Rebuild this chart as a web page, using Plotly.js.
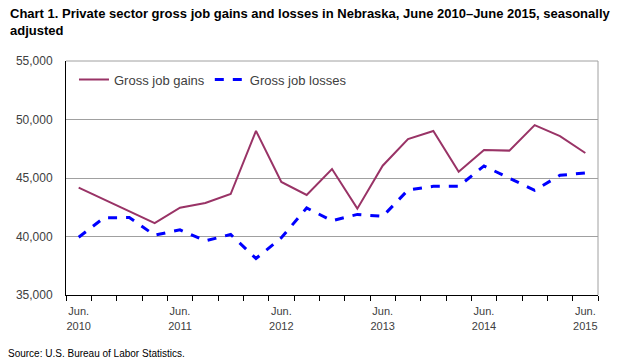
<!DOCTYPE html>
<html>
<head>
<meta charset="utf-8">
<script src="https://cdn.plot.ly/plotly-3.0.1.min.js"></script>
<style>html,body{margin:0;padding:0;background:#fff}#chart{width:640px;height:364px}</style>
</head>
<body>
<div id="chart"></div>
<script>
const quarters = ['Jun 2010','Sep 2010','Dec 2010','Mar 2011','Jun 2011','Sep 2011','Dec 2011','Mar 2012','Jun 2012','Sep 2012','Dec 2012','Mar 2013','Jun 2013','Sep 2013','Dec 2013','Mar 2014','Jun 2014','Sep 2014','Dec 2014','Mar 2015','Jun 2015'];
const grossJobGains = [44170,43180,42150,41140,42460,42860,43630,49030,44660,43550,45770,42380,46050,48330,49020,45540,47390,47340,49520,48580,47140];
const grossJobLosses = [39940,41600,41620,40110,40570,39630,40170,38120,39890,42440,41350,41890,41720,43970,44290,44290,46030,44970,43950,45230,45430];
const tickPositions = [0,4,8,12,16,20];
const tickLabels = ['Jun.<br>2010','Jun.<br>2011','Jun.<br>2012','Jun.<br>2013','Jun.<br>2014','Jun.<br>2015'];
const yTicks = [35000,40000,45000,50000,55000];

const xIdx = quarters.map((q, i) => i);
const font = 'Liberation Sans, Arial, sans-serif';
const titleFont = 'Liberation Sans Narrow, Arial Narrow, ' + font;

const traces = [
  {x: xIdx, y: grossJobGains, name: 'Gross job gains', type: 'scatter', mode: 'lines',
   line: {color: '#993366', width: 2}, text: quarters, hoverinfo: 'text+y'},
  {x: xIdx, y: grossJobLosses, name: 'Gross job losses', type: 'scatter', mode: 'lines',
   line: {color: '#0000ff', width: 3, dash: 'dash'}, text: quarters, hoverinfo: 'text+y'}
];

const layout = {
  width: 640, height: 364,
  margin: {l: 66, r: 42, t: 61, b: 69},
  paper_bgcolor: '#ffffff', plot_bgcolor: '#ffffff',
  font: {family: font, size: 11, color: '#404040'},
  showlegend: true,
  legend: {orientation: 'h', x: 0.015, y: 0.985, xanchor: 'left', yanchor: 'top',
           bgcolor: 'rgba(0,0,0,0)', font: {family: font, size: 13, color: '#404040'}},
  xaxis: {
    range: [-0.5, 20.5], showgrid: false, zeroline: false,
    tickmode: 'array', tickvals: tickPositions, ticktext: tickLabels, ticks: '',
    ticklabelstandoff: 6,
    tickfont: {family: font, size: 11, color: '#404040'},
    showline: true, linecolor: '#000', linewidth: 1, mirror: false,
    minor: {tickmode: 'linear', tick0: -0.5, dtick: 1, ticks: 'outside', ticklen: 5, tickcolor: '#000', tickwidth: 1, showgrid: false},
    fixedrange: true
  },
  yaxis: {
    range: [35000, 55000], tickmode: 'array', tickvals: yTicks, tickformat: ',',
    showgrid: true, gridcolor: '#a0a0a0', gridwidth: 1, zeroline: false,
    showline: true, linecolor: '#000', linewidth: 1, ticks: '',
    ticklabelstandoff: 10,
    tickfont: {family: font, size: 12, color: '#404040'},
    fixedrange: true
  },
  shapes: [
    {type: 'line', xref: 'paper', yref: 'paper', x0: 0, x1: 1, y0: 1, y1: 1, line: {color: '#a0a0a0', width: 1}},
    {type: 'line', xref: 'paper', yref: 'paper', x0: 1, x1: 1, y0: 0, y1: 1, line: {color: '#a0a0a0', width: 1}}
  ],
  annotations: [
    {text: '<b>Chart 1. Private sector gross job gains and losses in Nebraska, June 2010–June 2015, seasonally<br>adjusted</b>',
     xref: 'paper', yref: 'paper', x: -58/532, y: 1 + (61 - 4)/234, xanchor: 'left', yanchor: 'top', align: 'left',
     showarrow: false, font: {family: titleFont, size: 13, color: '#000'}},
    {text: 'Source: U.S. Bureau of Labor Statistics.', xref: 'paper', yref: 'paper',
     x: -60/532, y: -(353-295)/234, xanchor: 'left', yanchor: 'middle', showarrow: false,
     font: {family: font, size: 10, color: '#000'}}
  ]
};

Plotly.newPlot('chart', traces, layout, {displayModeBar: false, staticPlot: true});
</script>
</body>
</html>
